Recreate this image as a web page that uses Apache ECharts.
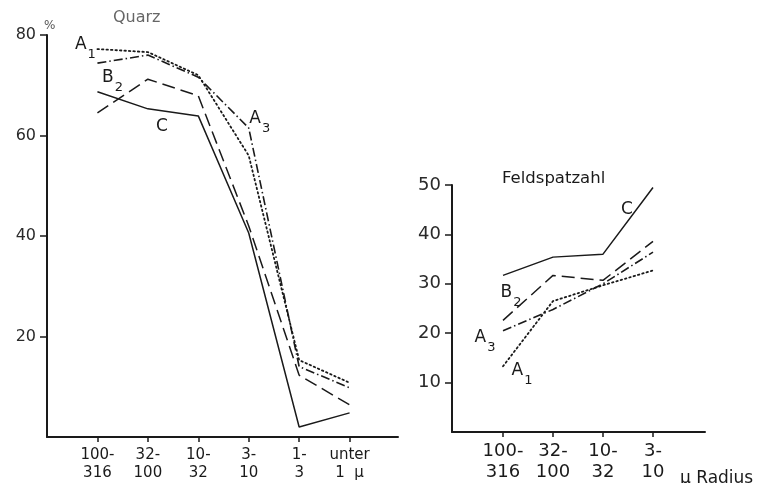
<!DOCTYPE html>
<html><head><meta charset="utf-8">
<script src="https://cdn.jsdelivr.net/npm/echarts@6/dist/echarts.min.js"></script>
<style>html,body{margin:0;padding:0;background:#fff}#c{width:761px;height:483px}</style>
</head><body><div id="c"></div>
<script>
// ---- data ----
const quarzCategories = ['100-\n316', '32-\n100', '10-\n32', '3-\n10', '1-\n3', 'unter\n1  μ'];
const feldCategories = ['100-\n316', '32-\n100', '10-\n32', '3-\n10'];
const quarzTicks = [20, 40, 60, 80];
const feldTicks = [10, 20, 30, 40, 50];
const quarzA1 = [77.2, 76.6, 72.0, 56.0, 15.3, 10.8];
const quarzA3 = [74.4, 76.0, 71.6, 61.5, 14.0, 9.8];
const quarzB2 = [64.5, 71.2, 67.9, 42.0, 12.3, 6.4];
const quarzC  = [68.7, 65.3, 63.9, 40.6, 2.0, 4.8];
const feldA1 = [13.3, 26.5, 29.7, 32.7];
const feldA3 = [20.5, 24.8, 30.0, 36.4];
const feldB2 = [22.6, 31.7, 30.7, 38.6];
const feldC  = [31.7, 35.4, 36.0, 49.5];

const INK = '#1a1a1a';
const styles = {
  A1: { type: [1.5, 3], cap: 'round', width: 1.8 },
  A3: { type: [9, 3, 1.5, 3], width: 1.6 },
  B2: { type: [13, 6], width: 1.5 },
  C:  { type: 'solid', width: 1.5 }
};
const rich = {
  m: { fontSize: 17, color: INK, fontFamily: 'DejaVu Sans', verticalAlign: 'bottom', lineHeight: 20 },
  s: { fontSize: 13, color: INK, fontFamily: 'DejaVu Sans', verticalAlign: 'bottom', lineHeight: 20, padding: [0, 0, -8, 1] }
};
function labelText(name) {
  return name.length > 1 ? '{m|' + name[0] + '}{s|' + name.slice(1) + '}' : '{m|' + name + '}';
}
function makeSeries(name, values, axisIdx, labelIdx, offset) {
  return {
    type: 'line', name: name, xAxisIndex: axisIdx, yAxisIndex: axisIdx,
    symbol: 'circle', symbolSize: 1, itemStyle: { color: 'rgba(0,0,0,0)' },
    lineStyle: Object.assign({ color: INK }, styles[name]),
    animation: false, silent: true,
    data: values.map((v, i) => {
      const item = { value: [i, v] };
      if (i === labelIdx) {
        item.label = { show: true, position: 'inside', offset: offset, formatter: labelText(name), rich: rich };
      }
      return item;
    })
  };
}
function xAxis(grid, cats, min, max, fs) {
  const idx = cats.map((_, i) => i);
  return {
    type: 'value', gridIndex: grid, min: min, max: max, interval: 1,
    axisLine: { show: true, onZero: false, lineStyle: { color: INK, width: 2 } },
    axisTick: { show: true, customValues: idx, length: 5, lineStyle: { color: INK, width: 1.5 } },
    axisLabel: { customValues: idx, formatter: v => cats[Math.round(v)] || '', color: INK, fontSize: fs,
                 fontFamily: 'DejaVu Sans', lineHeight: fs + 3, margin: 9 },
    splitLine: { show: false }
  };
}
function yAxis(grid, ticks, max, fs) {
  return {
    type: 'value', gridIndex: grid, min: 0, max: max, interval: ticks[1] - ticks[0],
    axisLine: { show: true, onZero: false, lineStyle: { color: INK, width: 2 } },
    axisTick: { show: true, customValues: ticks, length: 7, lineStyle: { color: INK, width: 1.5 } },
    axisLabel: { customValues: ticks, color: '#2a2a2a', fontSize: fs, fontFamily: 'DejaVu Sans', margin: 11 },
    splitLine: { show: false }
  };
}

const chart = echarts.init(document.getElementById('c'), null, { renderer: 'canvas' });
chart.setOption({
  backgroundColor: '#fff',
  animation: false,
  title: [
    { text: 'Quarz', left: 108, top: 5, textStyle: { fontSize: 16, fontWeight: 'normal', color: '#666', fontFamily: 'DejaVu Sans' } },
    { text: '%', left: 39, top: 15, textStyle: { fontSize: 12, fontWeight: 'normal', color: '#555', fontFamily: 'DejaVu Sans' } },
    { text: 'Feldspatzahl', left: 497, top: 165, textStyle: { fontSize: 16.5, fontWeight: 'normal', color: INK, fontFamily: 'DejaVu Sans' } },
    { text: 'μ Radius', left: 675, top: 465, textStyle: { fontSize: 17, fontWeight: 'normal', color: INK, fontFamily: 'DejaVu Sans' } }
  ],
  grid: [
    { left: 47, top: 35, width: 351, height: 402 },
    { left: 452, top: 185, width: 253, height: 252 }
  ],
  xAxis: [ xAxis(0, quarzCategories, -1, 5.96, 15), xAxis(1, feldCategories, -1.02, 4.04, 18) ],
  yAxis: [ yAxis(0, quarzTicks, 80, 16), yAxis(1, feldTicks, 50, 18) ],
  series: [
    makeSeries('A1', quarzA1, 0, 0, [-12, -6]),
    makeSeries('A3', quarzA3, 0, 3, [11, -11]),
    makeSeries('B2', quarzB2, 0, 0, [15, -37]),
    makeSeries('C',  quarzC,  0, 1, [14, 16]),
    makeSeries('A1', feldA1, 1, 0, [19, 3]),
    makeSeries('A3', feldA3, 1, 0, [-18, 5]),
    makeSeries('B2', feldB2, 1, 0, [8, -29]),
    makeSeries('C',  feldC,  1, 3, [-26, 21])
  ]
});
</script></body></html>
